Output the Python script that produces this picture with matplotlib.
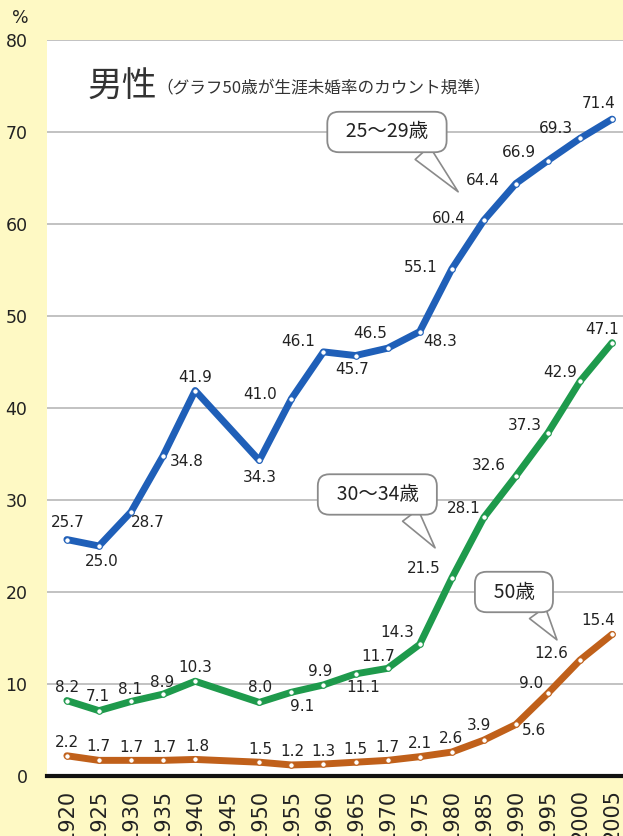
import matplotlib.pyplot as plt

plt.rcParams['font.family'] = ['DejaVu Sans', 'Noto Sans CJK JP']

# data (1945 has no census value)
years = [1920, 1925, 1930, 1935, 1940, 1950, 1955, 1960, 1965,
         1970, 1975, 1980, 1985, 1990, 1995, 2000, 2005]
tick_years = list(range(1920, 2010, 5))

age_25_29 = [25.7, 25.0, 28.7, 34.8, 41.9, 34.3, 41.0, 46.1, 45.7,
             46.5, 48.3, 55.1, 60.4, 64.4, 66.9, 69.3, 71.4]
age_30_34 = [8.2, 7.1, 8.1, 8.9, 10.3, 8.0, 9.1, 9.9, 11.1,
             11.7, 14.3, 21.5, 28.1, 32.6, 37.3, 42.9, 47.1]
age_50 = [2.2, 1.7, 1.7, 1.7, 1.8, 1.5, 1.2, 1.3, 1.5,
          1.7, 2.1, 2.6, 3.9, 5.6, 9.0, 12.6, 15.4]

series_names = ['25～29歳', '30～34歳', '50歳']

# label offsets in pixels (dx, dy)
off_25_29 = [(1, 17), (3, -16), (17, -11), (24, -6), (0, 13), (1, -17),
             (-31, 4), (-25, 10), (-3, -14), (-17, 15), (21, -10), (-31, 2),
             (-35, 2), (-33, 3), (-29, 8), (-24, 10), (-13, 16)]
off_30_34 = [(0, 13), (-1, 14), (-1, 12), (-1, 12), (0, 14), (1, 15),
             (11, -14), (-3, 13), (8, -14), (-9, 12), (-22, 12), (-28, 10),
             (-20, 9), (-27, 11), (-23, 7), (-20, 9), (-10, 13)]
off_50 = [(0, 13), (-1, 14), (0, 13), (1, 13), (2, 13), (1, 13),
          (1, 13), (0, 13), (0, 13), (0, 13), (0, 13), (-1, 14),
          (-5, 15), (18, -6), (-17, 10), (-29, 7), (-14, 14)]

bg = '#fef9c4'
fig = plt.figure(figsize=(6.23, 8.36), dpi=100, facecolor=bg)
ax = fig.add_axes([47 / 623, 60 / 836, 576 / 623, 736 / 836])
ax.set_facecolor('white')

ax.set_xlim(1916.9, 2006.7)
ax.set_ylim(0, 80)

for y in range(10, 90, 10):
    ax.axhline(y, color='#bdbdbd', lw=1.3, zorder=1)

colors = ['#1f5fb8', '#1e9a4c', '#c0601a']
all_series = [age_25_29, age_30_34, age_50]
all_offsets = [off_25_29, off_30_34, off_50]

for vals, offs, c in zip(all_series, all_offsets, colors):
    ax.plot(years, vals, color=c, lw=5, solid_joinstyle='round',
            solid_capstyle='round', zorder=3)
    ax.plot(years, vals, 'o', ms=4, mfc='white', mec=c, mew=0.8, zorder=4)
    for x, v, (dx, dy) in zip(years, vals, offs):
        ax.annotate(f'{v:.1f}', (x, v), xytext=(dx, dy),
                    textcoords='offset pixels', ha='center', va='center',
                    fontsize=11, color='#222222', zorder=5)

# speech bubbles: (text centre, tail tip)
bubbles = [((1969.9, 70.0), (1981.0, 63.5)),
           ((1968.4, 30.6), (1977.4, 24.8)),
           ((1989.7, 20.0), (1996.4, 14.8))]
for name, (txt_xy, tip) in zip(series_names, bubbles):
    ax.annotate('  ' + name + '  ', xy=tip, xytext=txt_xy, ha='center',
                va='center', fontsize=14, color='#222222',
                family=['Noto Sans CJK JP', 'DejaVu Sans'],
                bbox=dict(boxstyle='round,pad=0.5,rounding_size=0.6',
                          fc='white', ec='#8a8a8a', lw=1.3),
                arrowprops=dict(arrowstyle='wedge,tail_width=1.0,shrink_factor=0.5',
                                fc='white', ec='#8a8a8a', lw=1.2,
                                relpos=(0.72, 0.2), shrinkA=0, shrinkB=0),
                zorder=6)

for s in ['top', 'right', 'left']:
    ax.spines[s].set_visible(False)
ax.spines['bottom'].set_color('#111111')
ax.spines['bottom'].set_linewidth(3)
ax.spines['bottom'].set_zorder(2)

ax.set_yticks(range(0, 90, 10))
ax.set_xticks(tick_years)
ax.set_xticklabels([str(y) for y in tick_years], rotation=90, va='top')
ax.tick_params(axis='y', length=0, pad=14, labelsize=12.5, labelcolor='#222222')
ax.tick_params(axis='x', length=0, pad=9, labelsize=15, labelcolor='#222222')

fig.text(20 / 623, 1 - 18 / 836, '%', ha='center', va='center',
         fontsize=12.5, color='#222222')
fig.text(88 / 623, 1 - 87 / 836, '男性', ha='left', va='center', fontsize=25,
         color='#333333', family=['Noto Sans CJK JP', 'DejaVu Sans'])
fig.text(156 / 623, 1 - 89 / 836, '（グラフ50歳が生涯未婚率のカウント規準）',
         ha='left', va='center', fontsize=12, color='#333333',
         family=['Noto Sans CJK JP', 'DejaVu Sans'])

fig.savefig('out.png', dpi=100, facecolor=bg)
